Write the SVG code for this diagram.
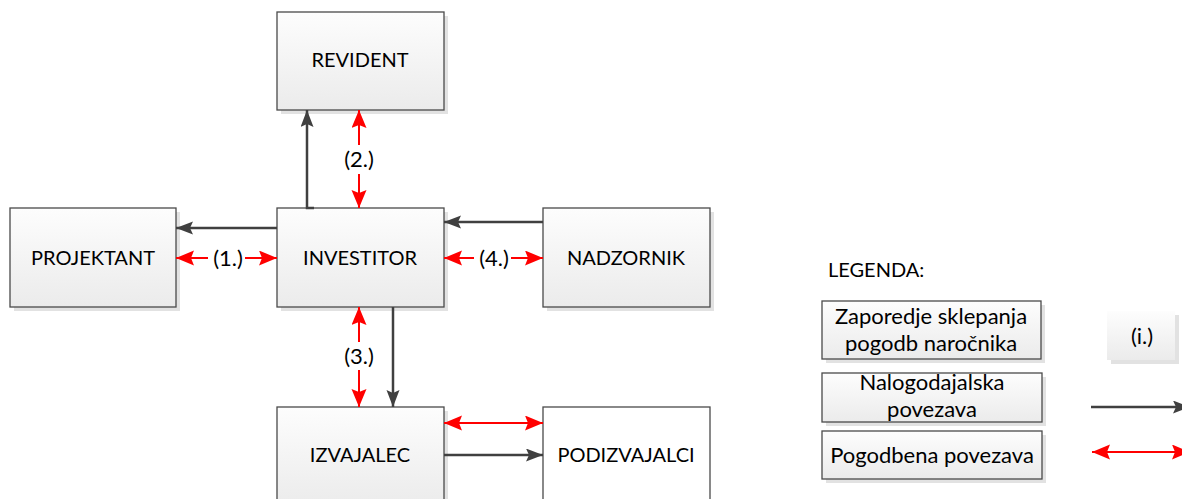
<svg xmlns="http://www.w3.org/2000/svg" width="1182" height="499" viewBox="0 0 1182 499">
  <defs>
    <linearGradient id="boxFill" x1="0" y1="0" x2="0" y2="1">
      <stop offset="0" stop-color="#fdfdfd"/>
      <stop offset="1" stop-color="#ebebeb"/>
    </linearGradient>
    <marker id="arrowDark" markerUnits="userSpaceOnUse" markerWidth="18" markerHeight="14" refX="17" refY="6.5" orient="auto">
      <path d="M0,0 L17,6.5 L0,13 L3,6.5 z" fill="#404040"/>
    </marker>
    <marker id="arrowRed" markerUnits="userSpaceOnUse" markerWidth="19" markerHeight="16" refX="18" refY="7.5" orient="auto">
      <path d="M0,0 L18,7.5 L0,15 L3,7.5 z" fill="#ff0000"/>
    </marker>
  </defs>
  <style>
    .shadow { fill: #e2e2e2; }
    .box { fill: url(#boxFill); stroke: #4a4a4a; stroke-width: 1.3; }
    .plain { fill: #ffffff; stroke: #4a4a4a; stroke-width: 1.3; }
    .lbl { font-family: Lato, "Liberation Sans", sans-serif; font-size: 20px; fill: #000; text-anchor: middle; }
    .num { font-family: Lato, "Liberation Sans", sans-serif; font-size: 22px; fill: #000; text-anchor: middle; }
    .leg { font-family: Lato, "Liberation Sans", sans-serif; font-size: 22px; fill: #000; text-anchor: middle; }
    .dark { stroke: #404040; stroke-width: 2.5; fill: none; marker-end: url(#arrowDark); }
    .red { stroke: #ff0000; stroke-width: 2; fill: none; marker-end: url(#arrowRed); }
  </style>

  <rect width="1182" height="499" fill="#ffffff"/>

  <!-- participants -->
  <g id="revident">
    <rect class="shadow" x="281" y="16" width="167" height="98"/>
    <rect class="box" x="277" y="12" width="167" height="98"/>
    <text class="lbl" x="360" y="67">REVIDENT</text>
  </g>
  <g id="projektant">
    <rect class="shadow" x="14" y="212" width="166" height="99"/>
    <rect class="box" x="10" y="208" width="166" height="99"/>
    <text class="lbl" x="93" y="265">PROJEKTANT</text>
  </g>
  <g id="investitor">
    <rect class="shadow" x="281" y="212" width="167" height="99"/>
    <rect class="box" x="277" y="208" width="167" height="99"/>
    <text class="lbl" x="360" y="265">INVESTITOR</text>
  </g>
  <g id="nadzornik">
    <rect class="shadow" x="547" y="212" width="167" height="99"/>
    <rect class="box" x="543" y="208" width="167" height="99"/>
    <text class="lbl" x="626" y="265">NADZORNIK</text>
  </g>
  <g id="izvajalec">
    <rect class="shadow" x="281" y="411" width="167" height="100"/>
    <rect class="box" x="277" y="407" width="167" height="100"/>
    <text class="lbl" x="360" y="462">IZVAJALEC</text>
  </g>
  <g id="podizvajalci">
    <rect class="plain" x="543" y="407" width="167" height="100"/>
    <text class="lbl" x="626" y="462">PODIZVAJALCI</text>
  </g>

  <!-- connectors -->
  <g id="connectors">
    <!-- instruction links -->
    <path class="dark" d="M314,208 L307,208 L307,110"/>
    <path class="dark" d="M277,228 L176,228"/>
    <path class="dark" d="M543,222 L444,222"/>
    <path class="dark" d="M393,307 L393,407"/>
    <path class="dark" d="M444,455 L543,455"/>
    <!-- contract links -->
    <path class="red" d="M359,145 L359,110"/>
    <path class="red" d="M359,174 L359,208"/>
    <path class="red" d="M208,258 L176,258"/>
    <path class="red" d="M245,258 L277,258"/>
    <path class="red" d="M474,258 L444,258"/>
    <path class="red" d="M511,258 L543,258"/>
    <path class="red" d="M359,342 L359,307"/>
    <path class="red" d="M359,370 L359,407"/>
    <path class="red" d="M493,423 L444,423"/>
    <path class="red" d="M493,423 L543,423"/>
    <text class="num" x="359" y="167">(2.)</text>
    <text class="num" x="228" y="266">(1.)</text>
    <text class="num" x="494" y="266">(4.)</text>
    <text class="num" x="359" y="364">(3.)</text>
  </g>

  <!-- legend -->
  <g id="legend">
    <text x="828" y="277" font-family="Lato, 'Liberation Sans', sans-serif" font-size="20" fill="#000">LEGENDA:</text>
    <g id="legend-sequence">
      <rect class="shadow" x="826" y="305" width="219" height="58"/>
      <rect class="box" x="822" y="301" width="219" height="58"/>
      <text class="leg" x="931" y="324">Zaporedje sklepanja</text>
      <text class="leg" x="931" y="351">pogodb naročnika</text>
    </g>
    <g id="legend-instruction">
      <rect class="shadow" x="826" y="377" width="220" height="49"/>
      <rect class="box" x="822" y="373" width="220" height="49"/>
      <text class="leg" x="932" y="390">Nalogodajalska</text>
      <text class="leg" x="932" y="417">povezava</text>
    </g>
    <g id="legend-contract">
      <rect class="shadow" x="826" y="435" width="220" height="48"/>
      <rect class="box" x="822" y="431" width="220" height="48"/>
      <text class="leg" x="932" y="463">Pogodbena povezava</text>
    </g>
    <g id="legend-index">
      <rect class="shadow" x="1111" y="315" width="68" height="49"/>
      <rect x="1107" y="311" width="68" height="49" fill="url(#boxFill)"/>
      <text class="leg" x="1142" y="344">(i.)</text>
    </g>
    <path class="dark" d="M1091,407 L1190,407"/>
    <path class="red" d="M1140,452 L1092,452"/>
    <path class="red" d="M1140,452 L1190,452"/>
  </g>
</svg>
